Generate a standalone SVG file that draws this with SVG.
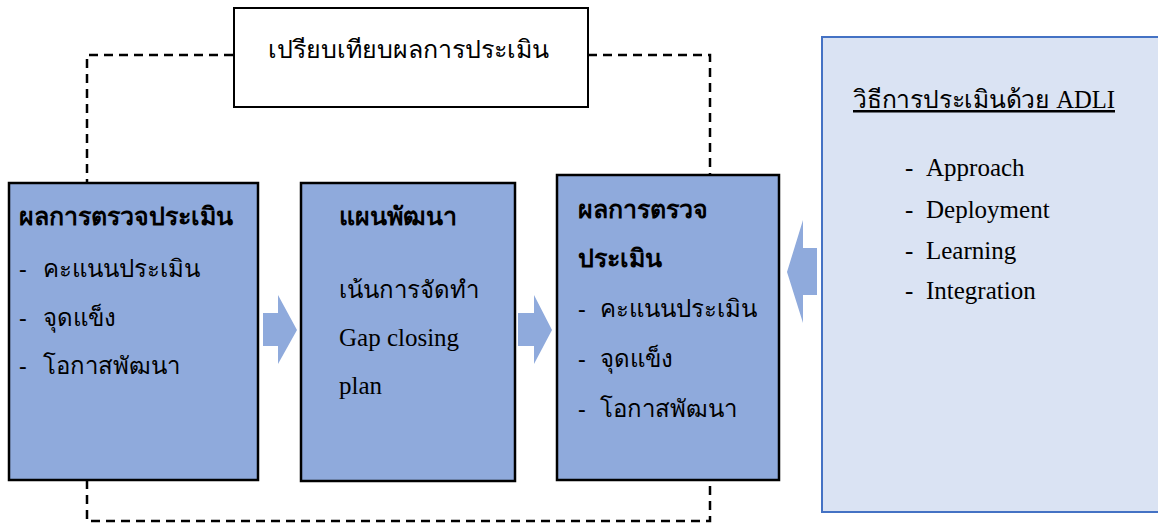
<svg xmlns="http://www.w3.org/2000/svg" width="1158" height="525" viewBox="0 0 1158 525">
<style>
.box{fill:#8FAADC;stroke:#000;stroke-width:2.5}
.th{font-family:"Noto Sans","DejaVu Sans",sans-serif;font-size:24px;fill:#000}
.b{font-weight:bold;font-size:25px}
.tm{font-family:"Liberation Serif","DejaVu Serif",serif;font-size:25px;fill:#000}
.dash{fill:none;stroke:#000;stroke-width:2.5;stroke-dasharray:9 6}
.arr{fill:#8FAADC}
</style>
<g id="connectors">
<path class="dash" d="M233,55 H87 V183"/>
<path class="dash" d="M588,55 H710 V175"/>
<path class="dash" d="M87,480 V521 H710 V480"/>
<polygon class="arr" points="263,313 278,313 278,295 297,330 278,364 278,346 263,346"/>
<polygon class="arr" points="518,313 534,313 534,295 552,330 534,364 534,346 518,346"/>
<polygon class="arr" points="817,248 803,248 803,220 787,272 803,323 803,295 817,295"/>
</g>
<g id="compare">
<rect x="234" y="8" width="354" height="99" fill="#fff" stroke="#000" stroke-width="2"/>
<text class="th" x="268" y="58" font-size="25" style="font-size:25px">เปรียบเทียบผลการประเมิน</text>
</g>
<g id="result1">
<rect class="box" x="9" y="183" width="249" height="297"/>
<text class="th b" x="19" y="225">ผลการตรวจประเมิน</text>
<text class="th" y="277"><tspan x="19">-</tspan><tspan x="43">คะแนนประเมิน</tspan></text>
<text class="th" y="326"><tspan x="19">-</tspan><tspan x="43">จุดแข็ง</tspan></text>
<text class="th" y="374"><tspan x="19">-</tspan><tspan x="43">โอกาสพัฒนา</tspan></text>
</g>
<g id="plan">
<rect class="box" x="301" y="183" width="214" height="298"/>
<text class="th b" x="339" y="225">แผนพัฒนา</text>
<text class="th" x="339" y="298">เน้นการจัดทำ</text>
<text class="tm" x="339" y="346">Gap closing</text>
<text class="tm" x="339" y="394">plan</text>
</g>
<g id="result2">
<rect class="box" x="557" y="175" width="222" height="305"/>
<text class="th b" x="578" y="218">ผลการตรวจ</text>
<text class="th b" x="578" y="267">ประเมิน</text>
<text class="th" y="317"><tspan x="578">-</tspan><tspan x="600">คะแนนประเมิน</tspan></text>
<text class="th" y="367"><tspan x="578">-</tspan><tspan x="600">จุดแข็ง</tspan></text>
<text class="th" y="417"><tspan x="578">-</tspan><tspan x="600">โอกาสพัฒนา</tspan></text>
</g>
<g id="adli">
<rect x="822" y="37" width="340" height="475" fill="#DAE3F3" stroke="#4472C4" stroke-width="2"/>
<text class="tm" x="853" y="108" text-decoration="underline" textLength="262" lengthAdjust="spacingAndGlyphs">วิธีการประเมินด้วย ADLI</text>
<text class="tm" y="176"><tspan x="905">-</tspan><tspan x="926">Approach</tspan></text>
<text class="tm" y="218"><tspan x="905">-</tspan><tspan x="926">Deployment</tspan></text>
<text class="tm" y="259"><tspan x="905">-</tspan><tspan x="926">Learning</tspan></text>
<text class="tm" y="299"><tspan x="905">-</tspan><tspan x="926">Integration</tspan></text>
</g>
</svg>
